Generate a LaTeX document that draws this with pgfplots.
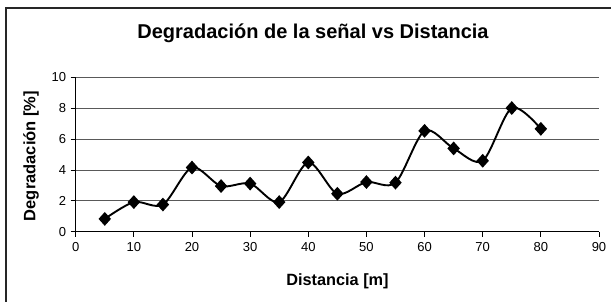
\documentclass[border=0pt]{standalone}
\usepackage{pgfplots}
\pgfplotsset{compat=1.18}
\usepackage{fontspec}
\setmainfont{Liberation Sans}
\begin{document}
\begin{tikzpicture}[x=1pt,y=1pt]
\useasboundingbox (0,0) rectangle (611,302);
\draw[line width=1.6pt, black!85] (6,-5) -- (6,294) -- (620,294);
\node[font={\fontsize{20}{24}\selectfont\bfseries}] at (313,268.5) {Degradación de la señal vs Distancia};
\node[font={\fontsize{16.3}{19}\selectfont\bfseries}] at (337.5,20.5) {Distancia [m]};
\node[font={\fontsize{16.5}{19}\selectfont\bfseries}, rotate=90] at (31,146) {Degradación [\%]};
\begin{axis}[
  at={(75.7pt,70.3pt)}, anchor=origin,
  scale only axis, width=523.3pt, height=154.2pt,
  xmin=0, xmax=90, ymin=0, ymax=10,
  xtick={0,10,...,90}, ytick={0,2,...,10},
  axis x line*=bottom, axis y line*=left,
  axis line style={black, line width=0.9pt},
  tick align=outside, major tick length=5pt,
  tick style={black, line width=0.9pt},
  ymajorgrids, grid style={black!65, line width=0.9pt},
  /pgf/number format/assume math mode=true,
  tick label style={font=\fontsize{13}{15}\selectfont},
  xticklabel style={yshift=-2pt},
  yticklabel style={xshift=-1pt},
  clip=false,
]
\addplot[black, line width=1.9pt, smooth, tension=0.5, mark=diamond*, mark size=5.5pt, mark options={solid, fill=black, xscale=1.2}]
coordinates {
(5,0.83) (10,1.92) (15,1.76) (20,4.16) (25,2.96) (30,3.12) (35,1.92) (40,4.49)
(45,2.46) (50,3.22) (55,3.18) (60,6.54) (65,5.40) (70,4.60) (75,8.02) (80,6.67)
};
\end{axis}
\end{tikzpicture}
\end{document}
